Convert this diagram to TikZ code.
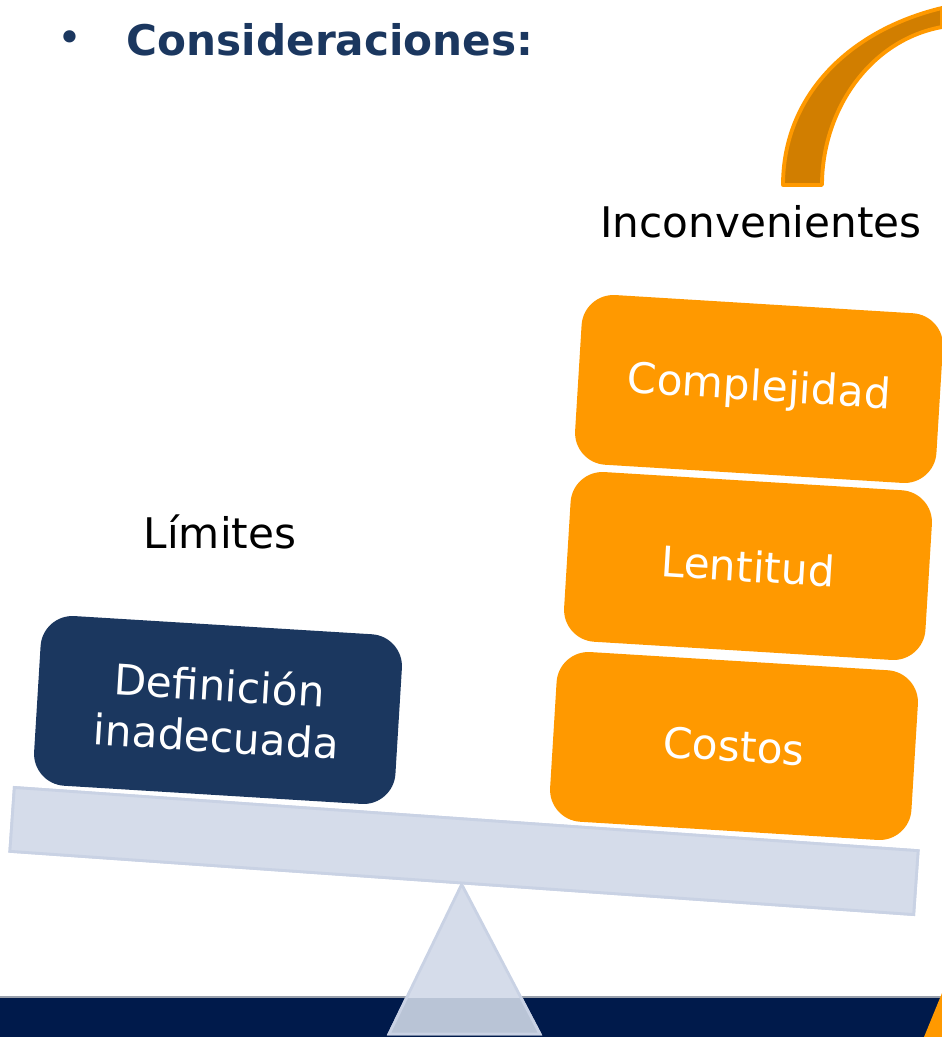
\documentclass[tikz,border=0pt]{standalone}
\usepackage{fontspec}
\setmainfont{DejaVu Sans}
\definecolor{navy}{HTML}{1B375F}
\definecolor{darkband}{HTML}{001A4B}
\definecolor{boxorange}{HTML}{FF9900}
\definecolor{arcorange}{HTML}{D17E00}
\definecolor{beamgray}{HTML}{D5DCEA}
\definecolor{beamedge}{HTML}{C9D2E4}
\definecolor{footgray}{HTML}{B9C4D6}

\begin{document}
\begin{tikzpicture}[
      every node/.style={font=\fontsize{12}{14.5}\selectfont},
      weight/.style={rounded corners=0.32cm, minimum width=3.62cm,
        minimum height=1.70cm, rotate=-3.5, text=white, align=center,
        inner sep=0pt},
      beam/.style={fill=beamgray, draw=beamedge, line width=0.8pt,
        minimum width=9.06cm, minimum height=0.64cm, rotate=-4, inner sep=0pt},
      sidetitle/.style={text=black}]
    \useasboundingbox (0,0) rectangle (9.42,-10.37);

    % footer band
    \fill[darkband] (0,-9.97) rectangle (9.42,-10.37);
    \draw[color=black!35!darkband!40!white, line width=0.6pt] (0,-9.97) -- (9.42,-9.97);
    \fill[boxorange] (9.42,-9.93) -- (9.24,-10.37) -- (9.42,-10.37) -- cycle;

    % title
    \node[text=navy, font=\fontsize{12}{14}\selectfont] (bullet) at (0.70,-0.42) {\textbullet};
    \node[text=navy, font=\fontsize{12}{14}\selectfont\bfseries] (title) at (3.30,-0.40) {Consideraciones:};

    % curved arrow piece
    \filldraw[fill=arcorange, draw=boxorange, line width=1.1pt, line join=round]
      (7.83,-1.85) .. controls (7.83,-0.95) and (8.50,-0.30) .. (9.42,-0.08)
      -- (9.42,-0.27) .. controls (8.70,-0.40) and (8.22,-1.10) .. (8.22,-1.85)
      -- cycle;

    % balance
    \node[beam] (beam) at (4.64,-8.51) {};
    \fill[beamgray, draw=beamedge, line width=0.8pt]
      (beam.south) -- (3.89,-10.34) -- (5.40,-10.34) -- cycle;
    \begin{scope}
      \clip (0,-9.98) rectangle (9.42,-10.37);
      \fill[footgray, draw=beamedge, line width=0.8pt]
        (beam.south) -- (3.89,-10.34) -- (5.40,-10.34) -- cycle;
    \end{scope}
    \node[beam] at (beam) {};

    % weights
    \node[weight, fill=navy] (definicion) at (2.18,-7.10) {Definición\\inadecuada};
    \node[weight, fill=boxorange] (costos) at (7.34,-7.46) {Costos};
    \node[weight, fill=boxorange] (lentitud) at (7.48,-5.66) {Lentitud};
    \node[weight, fill=boxorange] (complejidad) at (7.59,-3.89) {Complejidad};

    % headings
    \node[sidetitle] (limites) at (2.20,-5.32) {Límites};
    \node[sidetitle] (inconvenientes) at (7.61,-2.22) {Inconvenientes};
  \end{tikzpicture}
\end{document}
